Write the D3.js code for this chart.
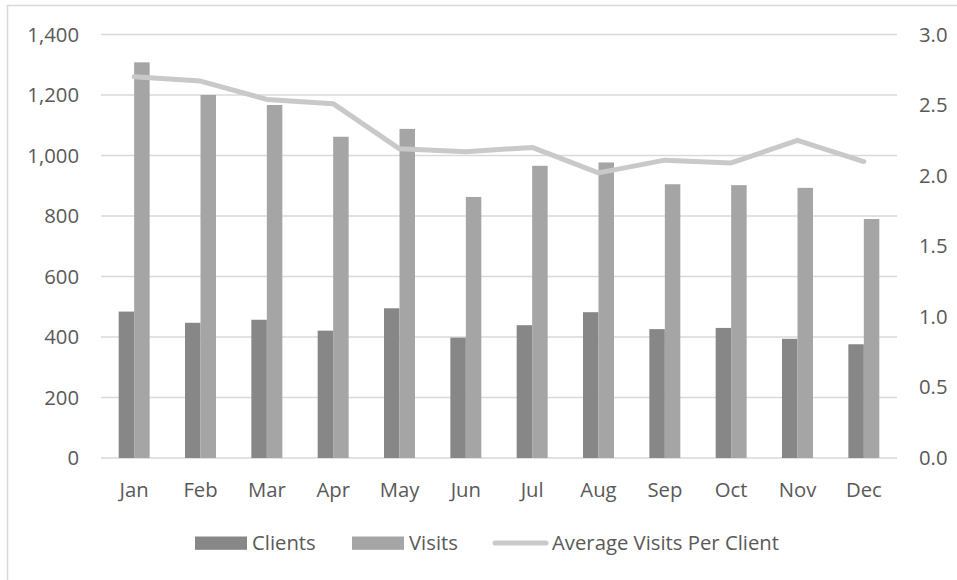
<!DOCTYPE html>
<html>
<head>
<meta charset="utf-8">
<script src="https://cdn.jsdelivr.net/npm/d3@7"></script>
<style>
  body { margin: 0; background: #fff; overflow: hidden; }
  svg { display: block; }
  text { font-family: "Open Sans", Lato, sans-serif; fill: #595959; }
</style>
</head>
<body>
<div id="chart"></div>
<script>
// data
let months = ["Jan", "Feb", "Mar", "Apr", "May", "Jun", "Jul", "Aug", "Sep", "Oct", "Nov", "Dec"];
let clients = [484, 447, 457, 421, 495, 398, 439, 482, 426, 430, 394, 376];
let visits = [1308, 1200, 1167, 1062, 1088, 863, 966, 977, 905, 902, 893, 790];
let avgVisits = [2.70, 2.67, 2.54, 2.51, 2.19, 2.17, 2.20, 2.02, 2.11, 2.09, 2.25, 2.10];
let leftTicks = [0, 200, 400, 600, 800, 1000, 1200, 1400];
let rightTicks = [0, 0.5, 1.0, 1.5, 2.0, 2.5, 3.0];

let width = 957, height = 580;
let plot = { left: 101, right: 897, top: 34.5, bottom: 458 };
let fontSize = "20.3px";

let svg = d3.select("#chart")
    .append("svg")
    .attr("width", width)
    .attr("height", height);

// chart frame (runs off the right and bottom of the picture)
svg.append("rect")
    .attr("x", 7.5)
    .attr("y", 5.5)
    .attr("width", 980)
    .attr("height", 600)
    .attr("fill", "none")
    .attr("stroke", "#d9d9d9")
    .attr("stroke-width", 1.5);

let x0 = d3.scaleBand()
    .domain(months)
    .range([plot.left, plot.right])
    .paddingInner(0.533)
    .paddingOuter(0.2665);

let x1 = d3.scaleBand()
    .domain(["Clients", "Visits"])
    .range([0, x0.bandwidth()]);

let yLeft = d3.scaleLinear().domain([0, 1400]).range([plot.bottom, plot.top]);
let yRight = d3.scaleLinear().domain([0, 3]).range([plot.bottom, plot.top]);

let colors = { Clients: "#878787", Visits: "#a5a5a5", line: "#c9c9c9" };

// gridlines
svg.append("g")
    .selectAll("line")
    .data(leftTicks)
    .enter()
    .append("line")
    .attr("x1", plot.left)
    .attr("x2", plot.right)
    .attr("y1", d => yLeft(d))
    .attr("y2", d => yLeft(d))
    .attr("stroke", "#d9d9d9")
    .attr("stroke-width", 1.3);

// left axis labels
let leftAxis = svg.append("g")
    .attr("transform", `translate(${plot.left - 22}, 0)`)
    .call(d3.axisLeft(yLeft).tickValues(leftTicks).tickSize(0).tickPadding(0).tickFormat(d3.format(",")));
leftAxis.select(".domain").remove();
leftAxis.selectAll("text").style("font-size", fontSize).attr("fill", "#595959");

// right axis labels
let rightAxis = svg.append("g")
    .attr("transform", `translate(${plot.right + 22}, 0)`)
    .call(d3.axisRight(yRight).tickValues(rightTicks).tickSize(0).tickPadding(0).tickFormat(d3.format(".1f")));
rightAxis.select(".domain").remove();
rightAxis.selectAll("text").style("font-size", fontSize).attr("fill", "#595959");

// month labels
let xAxis = svg.append("g")
    .attr("transform", `translate(0, ${plot.bottom + 22})`)
    .call(d3.axisBottom(x0).tickSize(0).tickPadding(0));
xAxis.select(".domain").remove();
xAxis.selectAll("text").style("font-size", fontSize).attr("fill", "#595959").attr("dy", "0.82em");

// bars
let rows = months.map((m, i) => ({ month: m, Clients: clients[i], Visits: visits[i] }));

let groups = svg.append("g")
    .selectAll("g")
    .data(rows)
    .enter()
    .append("g")
    .attr("transform", d => `translate(${x0(d.month)}, 0)`);

groups.selectAll("rect")
    .data(d => ["Clients", "Visits"].map(k => ({ key: k, value: d[k] })))
    .enter()
    .append("rect")
    .attr("x", d => x1(d.key))
    .attr("y", d => yLeft(d.value))
    .attr("width", x1.bandwidth())
    .attr("height", d => yLeft(0) - yLeft(d.value))
    .attr("fill", d => colors[d.key]);

// line on the right axis
let line = d3.line()
    .x((d, i) => x0(months[i]) + x0.bandwidth() / 2)
    .y(d => yRight(d));

svg.append("path")
    .datum(avgVisits)
    .attr("d", line)
    .attr("fill", "none")
    .attr("stroke", colors.line)
    .attr("stroke-width", 5)
    .attr("stroke-linecap", "round")
    .attr("stroke-linejoin", "round");

// legend
let legendY = 543;
let legend = svg.append("g");

legend.append("rect")
    .attr("x", 195).attr("y", legendY - 6.5)
    .attr("width", 52).attr("height", 13.3)
    .attr("fill", colors.Clients);
legend.append("text")
    .attr("x", 252).attr("y", legendY).attr("dy", "0.35em")
    .style("font-size", fontSize).text("Clients");

legend.append("rect")
    .attr("x", 352).attr("y", legendY - 6.5)
    .attr("width", 52).attr("height", 13.3)
    .attr("fill", colors.Visits);
legend.append("text")
    .attr("x", 409).attr("y", legendY).attr("dy", "0.35em")
    .style("font-size", fontSize).text("Visits");

legend.append("line")
    .attr("x1", 495).attr("x2", 546)
    .attr("y1", legendY).attr("y2", legendY)
    .attr("stroke", colors.line)
    .attr("stroke-width", 5)
    .attr("stroke-linecap", "round");
legend.append("text")
    .attr("x", 552).attr("y", legendY).attr("dy", "0.35em")
    .style("font-size", fontSize).text("Average Visits Per Client");
</script>
</body>
</html>
